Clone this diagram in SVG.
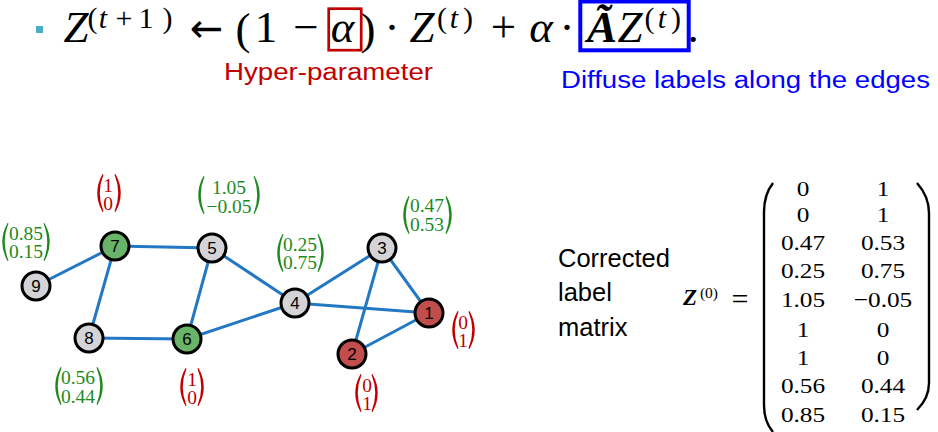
<svg xmlns="http://www.w3.org/2000/svg" xmlns:xlink="http://www.w3.org/1999/xlink" width="938" height="432" viewBox="0 0 938 432">
<style>
.m{font-family:"Liberation Serif","Times New Roman",serif;font-size:45px;fill:#000;text-anchor:middle}
.i{font-style:italic}
.b{font-weight:bold}
.s{font-family:"Liberation Serif","Times New Roman",serif;font-size:30px;fill:#000;text-anchor:middle}
.arr{font-family:"DejaVu Sans",sans-serif;font-size:40px;fill:#000;text-anchor:middle}
.sans{font-family:"Liberation Sans",Arial,sans-serif}
.vl{font-family:"Liberation Serif","Times New Roman",serif;font-size:19.5px;text-anchor:middle}
.red{fill:#c00000}
.grn{fill:#1e8a1e}
.mx{font-family:"Liberation Serif","Times New Roman",serif;font-size:22px;fill:#000;text-anchor:middle}
.edge{stroke:#2378c4;stroke-width:3;fill:none;stroke-linecap:round}
.node circle{stroke:#000;stroke-width:3}
.gray{fill:#d4d4d8}
.green{fill:#6ab46a}
.redn{fill:#c24d4d}
.nl{font-family:"Liberation Sans",Arial,sans-serif;font-size:17px;fill:#000;text-anchor:middle}
</style>
<defs>
<path id="lp" d="M6.5,0 Q-4,19 6.5,38 L7.5,37.6 Q0,19 7.5,0.4 Z"/>
<path id="rp" d="M1.5,0 Q12,19 1.5,38 L0.5,37.6 Q8,19 0.5,0.4 Z"/>
</defs>

<g id="formula">
<rect x="36" y="26" width="7" height="7" fill="#4bacc6"/>
<text class="m i" x="76" y="42">Z</text>
<text class="s" x="92.5" y="28">(</text>
<text class="s i" x="103" y="28">t</text>
<text class="s" x="124" y="28">+</text>
<text class="s" x="146" y="28">1</text>
<text class="s" x="167.5" y="28">)</text>
<text class="arr" x="206.5" y="42">←</text>
<text class="m" x="243" y="44">(</text>
<text class="m" x="266" y="42">1</text>
<text class="m" x="306" y="42">−</text>
<text class="m i" x="342.5" y="42">α</text>
<text class="m" x="368" y="44">)</text>
<text class="m" x="392" y="42">·</text>
<text class="m i" x="422" y="42">Z</text>
<text class="s" x="442" y="28">(</text>
<text class="s i" x="454" y="28">t</text>
<text class="s" x="468" y="28">)</text>
<text class="m" x="503.5" y="42">+</text>
<text class="m i" x="541" y="42">α</text>
<text class="m" x="567" y="42">·</text>
<text class="m i b" x="602" y="42">Ã</text>
<text class="m i" x="630" y="42">Z</text>
<text class="s" x="649.5" y="28">(</text>
<text class="s i" x="662" y="28">t</text>
<text class="s" x="676" y="28">)</text>
<text class="m" x="693" y="42">.</text>
<rect x="328.7" y="8.7" width="32.5" height="41.5" fill="none" stroke="#c00000" stroke-width="2.7"/>
<rect x="580.3" y="1.5" width="108.4" height="48.8" fill="none" stroke="#0000ff" stroke-width="4"/>
</g>

<g id="annotations">
<text class="sans" x="224" y="80" style="font-size:23.3px" fill="#c00000" textLength="209" lengthAdjust="spacingAndGlyphs">Hyper-parameter</text>
<text class="sans" x="561" y="88" style="font-size:23.3px" fill="#0000ff" textLength="369" lengthAdjust="spacingAndGlyphs">Diffuse labels along the edges</text>
</g>

<g id="connectors">
<line class="edge" x1="36" y1="286" x2="115" y2="246"/>
<line class="edge" x1="115" y1="246" x2="212" y2="248"/>
<line class="edge" x1="115" y1="246" x2="89" y2="338"/>
<line class="edge" x1="89" y1="338" x2="187" y2="339"/>
<line class="edge" x1="187" y1="339" x2="212" y2="248"/>
<line class="edge" x1="212" y1="248" x2="295" y2="303"/>
<line class="edge" x1="187" y1="339" x2="295" y2="303"/>
<line class="edge" x1="295" y1="303" x2="382" y2="248"/>
<line class="edge" x1="295" y1="303" x2="429" y2="313"/>
<line class="edge" x1="382" y1="248" x2="429" y2="313"/>
<line class="edge" x1="382" y1="248" x2="352" y2="354"/>
<line class="edge" x1="352" y1="354" x2="429" y2="313"/>
</g>

<g id="node1" class="node"><circle class="redn" cx="429" cy="313" r="14"/><text class="nl" x="429" y="319">1</text></g>
<g id="node2" class="node"><circle class="redn" cx="352" cy="354" r="14"/><text class="nl" x="352" y="360">2</text></g>
<g id="node3" class="node"><circle class="gray" cx="382" cy="248" r="14"/><text class="nl" x="382" y="254">3</text></g>
<g id="node4" class="node"><circle class="gray" cx="295" cy="303" r="14"/><text class="nl" x="295" y="309">4</text></g>
<g id="node5" class="node"><circle class="gray" cx="212" cy="248" r="14"/><text class="nl" x="212" y="254">5</text></g>
<g id="node6" class="node"><circle class="green" cx="187" cy="339" r="14"/><text class="nl" x="187" y="345">6</text></g>
<g id="node7" class="node"><circle class="green" cx="115" cy="246" r="14"/><text class="nl" x="115" y="252">7</text></g>
<g id="node8" class="node"><circle class="gray" cx="89" cy="338" r="14"/><text class="nl" x="89" y="344">8</text></g>
<g id="node9" class="node"><circle class="gray" cx="36" cy="286" r="14"/><text class="nl" x="36" y="292">9</text></g>

<g id="label7" class="red">
<use xlink:href="#lp" x="96" y="174"/><use xlink:href="#rp" x="114" y="174"/>
<text class="vl"><tspan x="108" y="192">1</tspan><tspan x="108" y="210">0</tspan></text>
</g>
<g id="label9" class="grn">
<use xlink:href="#lp" x="1" y="223"/><use xlink:href="#rp" x="43" y="223"/>
<text class="vl"><tspan x="26" y="240">0.85</tspan><tspan x="26" y="258">0.15</tspan></text>
</g>
<g id="label5" class="grn">
<use xlink:href="#lp" x="197" y="176"/><use xlink:href="#rp" x="253" y="176"/>
<text class="vl"><tspan x="229" y="194">1.05</tspan><tspan x="229" y="213">−0.05</tspan></text>
</g>
<g id="label4" class="grn">
<use xlink:href="#lp" x="276" y="234"/><use xlink:href="#rp" x="317" y="234"/>
<text class="vl"><tspan x="300" y="251">0.25</tspan><tspan x="300" y="269">0.75</tspan></text>
</g>
<g id="label3" class="grn">
<use xlink:href="#lp" x="402" y="196"/><use xlink:href="#rp" x="445" y="196"/>
<text class="vl"><tspan x="427" y="212">0.47</tspan><tspan x="427" y="231">0.53</tspan></text>
</g>
<g id="label8" class="grn">
<use xlink:href="#lp" x="54" y="367"/><use xlink:href="#rp" x="96" y="367"/>
<text class="vl"><tspan x="78" y="384">0.56</tspan><tspan x="78" y="403">0.44</tspan></text>
</g>
<g id="label6" class="red">
<use xlink:href="#lp" x="179" y="368"/><use xlink:href="#rp" x="197" y="368"/>
<text class="vl"><tspan x="192" y="386">1</tspan><tspan x="192" y="404">0</tspan></text>
</g>
<g id="label1" class="red">
<use xlink:href="#lp" x="451" y="311"/><use xlink:href="#rp" x="468" y="311"/>
<text class="vl"><tspan x="463" y="329">0</tspan><tspan x="463" y="347">1</tspan></text>
</g>
<g id="label2" class="red">
<use xlink:href="#lp" x="354" y="374"/><use xlink:href="#rp" x="371" y="374"/>
<text class="vl"><tspan x="367" y="392">0</tspan><tspan x="367" y="410">1</tspan></text>
</g>

<g id="caption">
<text class="sans" style="font-size:25.5px" x="558" y="267">Corrected</text>
<text class="sans" style="font-size:25.5px" x="558" y="301">label</text>
<text class="sans" style="font-size:25.5px" x="558" y="336">matrix</text>
</g>

<g id="matrix">
<text class="mx i b" x="690" y="305" style="font-size:23px">Z</text>
<text class="mx" x="709" y="298" style="font-size:15.5px">(0)</text>
<text class="mx" x="740" y="309" style="font-size:30px">=</text>
<path d="M773,183 C766,192 764,202 764,212 L764,405 C764,415 766,424 773,432" fill="none" stroke="#000" stroke-width="2.4"/>
<path d="M917,183 C925,192 929,203 929,213 L929,383 C929,393 925,402 917,410" fill="none" stroke="#000" stroke-width="2.4"/>
<g transform="translate(803,0) scale(1.15,1)">
<text class="mx" x="0" y="196">0</text>
<text class="mx" x="0" y="222">0</text>
<text class="mx" x="0" y="250">0.47</text>
<text class="mx" x="0" y="278">0.25</text>
<text class="mx" x="0" y="307">1.05</text>
<text class="mx" x="0" y="337">1</text>
<text class="mx" x="0" y="365">1</text>
<text class="mx" x="0" y="393">0.56</text>
<text class="mx" x="0" y="422">0.85</text>
</g>
<g transform="translate(883,0) scale(1.15,1)">
<text class="mx" x="0" y="196">1</text>
<text class="mx" x="0" y="222">1</text>
<text class="mx" x="0" y="250">0.53</text>
<text class="mx" x="0" y="278">0.75</text>
<text class="mx" x="0" y="307">−0.05</text>
<text class="mx" x="0" y="337">0</text>
<text class="mx" x="0" y="365">0</text>
<text class="mx" x="0" y="393">0.44</text>
<text class="mx" x="0" y="422">0.15</text>
</g>
</g>
</svg>
